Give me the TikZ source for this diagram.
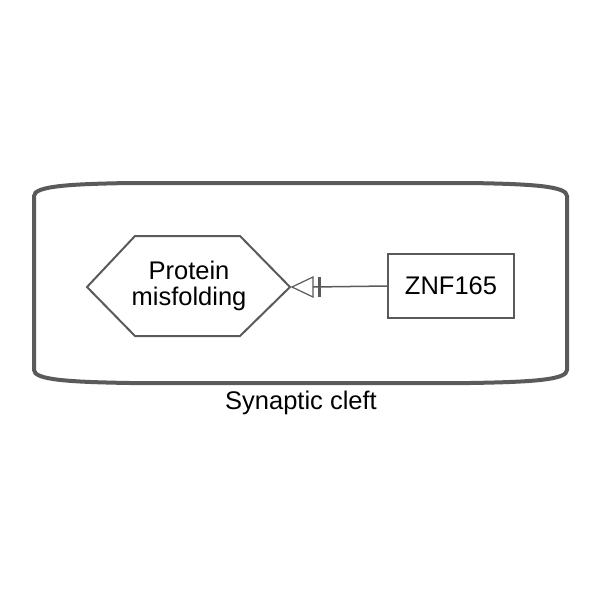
\documentclass[tikz,border=0pt]{standalone}
\usepackage{fontspec}
\setmainfont{Liberation Sans}
\usetikzlibrary{calc}
\begin{document}
\begin{tikzpicture}[x=1pt,y=-1pt,
  lbl/.style={font=\fontsize{25.5}{26}\selectfont, text=black, align=center, inner sep=0pt},
  edgecol/.style={draw={rgb,255:red,90;green,90;blue,90}},
  compart/.style={edgecol, line width=4pt},
  hexa/.style={edgecol, line width=2pt},
  genebox/.style={edgecol, line width=1.5pt, minimum width=126pt, minimum height=64pt, inner sep=0pt, lbl},
  conn/.style={edgecol, line width=1.5pt}]
\useasboundingbox (0,0) rectangle (600,600);
% compartment
\draw[compart] (34,196) .. controls (34,186) and (70,184) .. (130,183) -- (470,183)
  .. controls (531,184) and (567,186) .. (567,196) -- (567,370)
  .. controls (567,380) and (531,382) .. (470,383) -- (130,383)
  .. controls (70,382) and (34,380) .. (34,370) -- cycle;
\node[lbl] (cleft) at (301,403) {Synaptic cleft};
% hexagon
\draw[hexa] (87,287) -- (135,236) -- (240,236) -- (290,287) -- (240,336) -- (135,336) -- cycle;
\node[lbl] (pm) at (189,286) {Protein\\misfolding};
% gene box
\node[genebox] (znf) at (451,286) {ZNF165};
% connector
\coordinate (tip) at (292,287);
\coordinate (base) at (313,287);
\coordinate (bar) at (319.5,287);
\draw[conn] (znf.west) -- (base);
\draw[conn, line width=1.2pt] (tip) -- ($(base)+(0,-10)$) -- ($(base)+(0,10)$) -- cycle;
\draw[edgecol, line width=2.5pt] ($(bar)+(0,-10)$) -- ($(bar)+(0,10)$);
\end{tikzpicture}
\end{document}
